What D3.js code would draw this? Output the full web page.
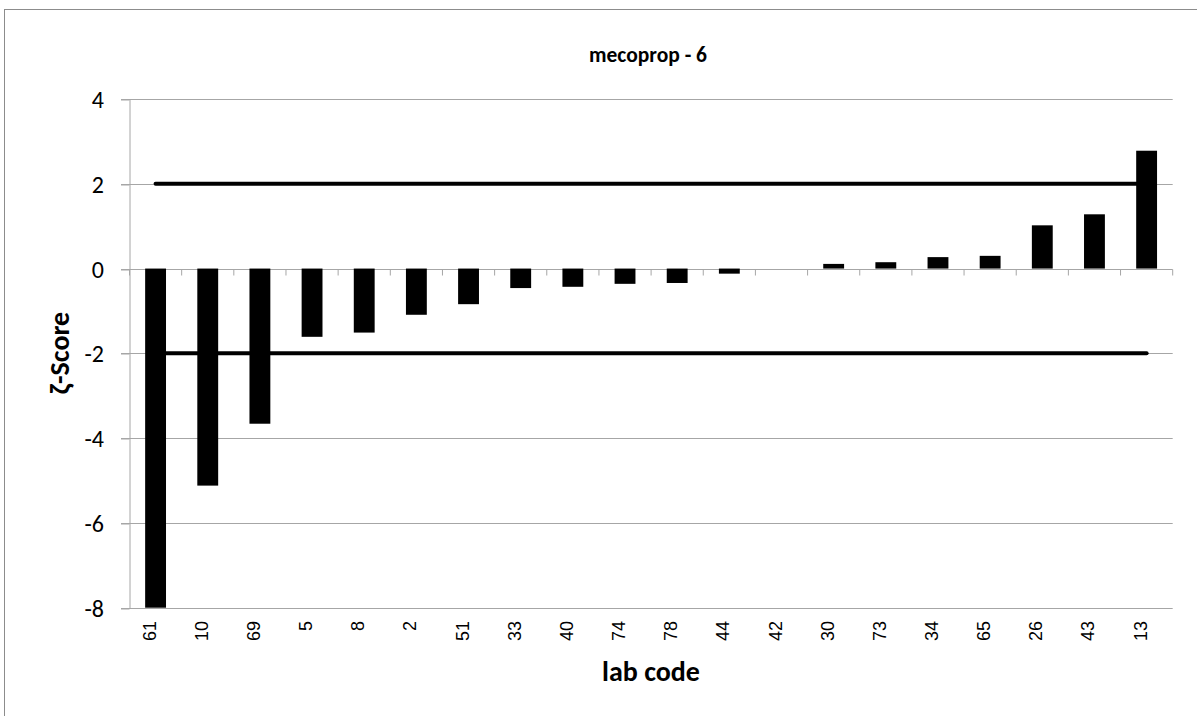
<!DOCTYPE html>
<html>
<head>
<meta charset="utf-8">
<script src="https://cdn.jsdelivr.net/npm/d3@7"></script>
<style>
  html, body { margin: 0; padding: 0; background: #fff; }
  svg { display: block; }
</style>
</head>
<body>
<svg id="chart" width="1197" height="716"></svg>
<script>
const labCodes = ["61","10","69","5","8","2","51","33","40","74","78","44","42","30","73","34","65","26","43","13"];
const zetaScores = [-8.0,-5.12,-3.66,-1.61,-1.51,-1.09,-0.84,-0.46,-0.43,-0.36,-0.34,-0.12,0.0,0.11,0.15,0.27,0.30,1.02,1.28,2.78];
const yTicks = [-8,-6,-4,-2,0,2,4];
const limits = [2,-2];
const chartTitle = "mecoprop - 6";
const xTitle = "lab code";
const yTitle = "ζ-Score";

(function () {
const svg = d3.select("#chart");
const calibri = "Carlito, Calibri, 'Open Sans', sans-serif";
const arial = "'Liberation Sans', Arial, sans-serif";
const gridColor = "#a6a6a6";

const pLeft = 129.5, pRight = 1172.7, pTop = 99, pBottom = 607.7;

// outer frame
svg.append("rect").attr("x", 4.5).attr("y", 9.5).attr("width", 1250).attr("height", 800)
  .attr("fill", "none").attr("stroke", "#8c8c8c").attr("stroke-width", 1);

const x = d3.scaleBand().domain(labCodes).range([pLeft, pRight]).paddingInner(0).paddingOuter(0);
const y = d3.scaleLinear().domain([-8, 4]).range([pBottom, pTop]);

// gridlines
svg.append("g").selectAll("line").data(yTicks.filter(d => d !== 0)).join("line")
  .attr("x1", pLeft - 8.5).attr("x2", pRight)
  .attr("y1", d => Math.round(y(d)) + 0.5).attr("y2", d => Math.round(y(d)) + 0.5)
  .attr("stroke", gridColor).attr("stroke-width", 1);

// y axis
const yAxis = d3.axisLeft(y).tickValues(yTicks).tickSize(0).tickPadding(0).tickFormat(d3.format("d"));
const gy = svg.append("g").attr("transform", `translate(${pLeft},0)`).call(yAxis);
gy.select(".domain").attr("stroke", gridColor);
gy.selectAll(".tick text").attr("x", -25.5).attr("dy", "0.36em")
  .style("font-family", calibri).style("font-size", "24px").attr("fill", "#000")
  .text(d => d < 0 ? "-" + Math.abs(d) : d);
gy.selectAll(".tick").append("line").attr("x1", -8.5).attr("x2", 0).attr("stroke", gridColor)
  .attr("transform", d => `translate(0,${Math.round(y(d)) + 0.5 - y(d)})`);

// zero axis line with ticks between categories
const y0 = Math.round(y(0)) + 0.5;
svg.append("line").attr("x1", pLeft - 8.5).attr("x2", pRight).attr("y1", y0).attr("y2", y0)
  .attr("stroke", gridColor);
const bounds = labCodes.map(c => x(c)).concat([pRight]);
svg.append("g").selectAll("line").data(bounds).join("line")
  .attr("x1", d => d).attr("x2", d => d).attr("y1", y0).attr("y2", y0 + 6)
  .attr("stroke", gridColor);

// limit lines
const c0 = x(labCodes[0]) + x.bandwidth() / 2;
const c1 = x(labCodes[labCodes.length - 1]) + x.bandwidth() / 2;
svg.append("g").selectAll("line").data(limits).join("line")
  .attr("x1", c0).attr("x2", c1).attr("y1", d => y(d)).attr("y2", d => y(d))
  .attr("stroke", "#000").attr("stroke-width", 4).attr("stroke-linecap", "round");

// bars
const bw = x.bandwidth() * 0.4;
svg.append("g").selectAll("rect").data(labCodes).join("rect")
  .attr("x", d => x(d) + x.bandwidth() / 2 - bw / 2)
  .attr("width", bw)
  .attr("y", (d, i) => y(Math.max(0, zetaScores[i])))
  .attr("height", (d, i) => Math.abs(y(zetaScores[i]) - y(0)))
  .attr("fill", "#000");

// x tick labels
svg.append("g").selectAll("text").data(labCodes).join("text")
  .attr("transform", d => `translate(${x(d) + x.bandwidth() / 2},621) rotate(-90)`)
  .attr("text-anchor", "end")
  .style("font-family", arial).style("font-size", "18px").attr("fill", "#000")
  .text(d => d);

// titles
svg.append("text").attr("x", 648).attr("y", 62).attr("text-anchor", "middle")
  .style("font-family", calibri).style("font-size", "21.5px").style("font-weight", "bold")
  .text(chartTitle);
svg.append("text").attr("x", 651).attr("y", 681).attr("text-anchor", "middle")
  .style("font-family", calibri).style("font-size", "28px").style("font-weight", "bold")
  .text(xTitle);
svg.append("text").attr("transform", `translate(69,353) rotate(-90)`).attr("text-anchor", "middle")
  .style("font-family", calibri).style("font-size", "28px").style("font-weight", "bold")
  .text(yTitle);
})();
</script>
</body>
</html>
